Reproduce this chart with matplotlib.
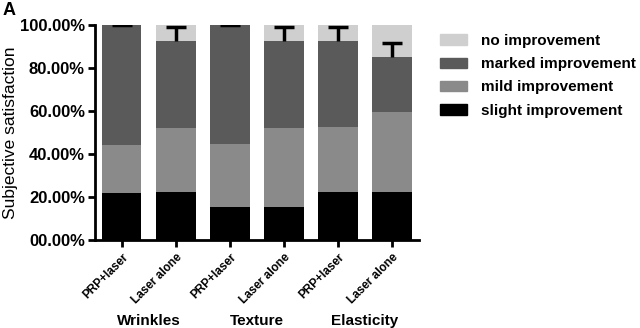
import matplotlib
matplotlib.use("Agg")
import matplotlib.pyplot as plt
import numpy as np
from matplotlib.patches import Patch

plt.rcParams['font.family'] = ['Liberation Sans', 'DejaVu Sans']

categories = ["PRP+laser", "Laser alone", "PRP+laser", "Laser alone", "PRP+laser", "Laser alone"]
groups = ["Wrinkles", "Texture", "Elasticity"]
slight = [22.0, 22.5, 15.2, 15.2, 22.5, 22.5]
mild = [22.2, 29.7, 29.5, 37.0, 29.9, 37.2]
marked = [55.8, 40.5, 55.3, 40.5, 40.3, 25.6]
no_imp = [0.0, 7.3, 0.0, 7.3, 7.3, 14.7]
err = [0.0, 6.2, 0.0, 6.2, 6.2, 6.2]
yticks = [0, 20, 40, 60, 80, 100]
ytick_labels = ["00.00%", "20.00%", "40.00%", "60.00%", "80.00%", "100.00%"]

c_no = "#cfcfcf"
c_marked = "#5a5a5a"
c_mild = "#8a8a8a"
c_slight = "#000000"

fig = plt.figure(figsize=(6.4, 3.28), dpi=100)
ax = fig.add_axes([0.148, 0.268, 0.507, 0.656])

x = np.arange(len(categories))
w = 0.73
s = np.array(slight); m = np.array(mild); mk = np.array(marked); n = np.array(no_imp)
ax.bar(x, s, w, color=c_slight, zorder=2)
ax.bar(x, m, w, bottom=s, color=c_mild, zorder=2)
ax.bar(x, mk, w, bottom=s + m, color=c_marked, zorder=2)
ax.bar(x, n, w, bottom=s + m + mk, color=c_no, zorder=2)
tops = s + m + mk
eb = ax.errorbar(x, tops, yerr=[np.zeros_like(tops), np.array(err)], fmt='none',
                 ecolor='black', elinewidth=2.5, capsize=7, capthick=2.5, zorder=3)
caplines = eb[1]
if len(caplines) == 2:
    caplines[0].set_visible(False)

ax.set_xlim(-0.5, 5.5)
ax.set_ylim(0, 100)
ax.set_yticks(yticks)
ax.set_yticklabels(ytick_labels, fontsize=12, fontweight='bold')
ax.set_xticks(x)
ax.set_xticklabels(categories, rotation=45, ha='right', rotation_mode='anchor',
                   fontsize=8.5, fontweight='bold')
ax.spines['top'].set_visible(False)
ax.spines['right'].set_visible(False)
for sp in ['left', 'bottom']:
    ax.spines[sp].set_linewidth(2)
ax.tick_params(axis='both', width=2, length=5, direction='out')
ax.tick_params(axis='x', pad=3)
ax.tick_params(axis='y', pad=2)
ax.set_ylabel("Subjective satisfaction", fontsize=12.5)
ax.yaxis.set_label_coords(-0.235, 0.5)

for i, g in enumerate(groups):
    ax.text(2 * i + 0.5, -0.375, g, transform=ax.get_xaxis_transform(),
            ha='center', va='center', fontsize=11, fontweight='bold')

fig.text(0.004, 0.995, "A", fontsize=13, fontweight='bold', va='top', ha='left')

handles = [Patch(color=c_no), Patch(color=c_marked), Patch(color=c_mild), Patch(color=c_slight)]
labels = ["no improvement", "marked improvement", "mild improvement", "slight improvement"]
fig.legend(handles, labels, loc='upper left', bbox_to_anchor=(0.68, 0.91), frameon=False,
           prop={'size': 11, 'weight': 'bold'}, handlelength=1.75, handleheight=0.7,
           labelspacing=0.6, handletextpad=0.95, borderaxespad=0, borderpad=0.3)

fig.savefig("out.png", dpi=100)
